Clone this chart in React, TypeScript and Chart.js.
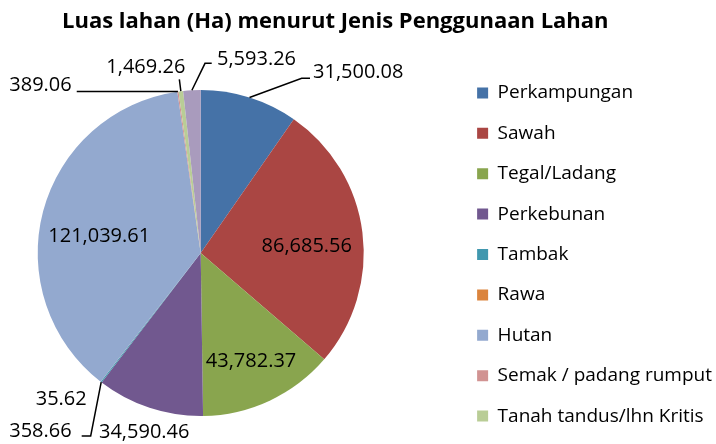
import { useEffect, useRef } from "react";
import { Chart, registerables } from "chart.js";

Chart.register(...registerables);

// ---- data ----
const categories = [
  "Perkampungan",
  "Sawah",
  "Tegal/Ladang",
  "Perkebunan",
  "Tambak",
  "Rawa",
  "Hutan",
  "Semak / padang rumput",
  "Tanah tandus/lhn Kritis",
  "Lainnya",
];
const areaHa = [
  31500.08, 86685.56, 43782.37, 34590.46, 358.66, 35.62, 121039.61, 389.06,
  1469.26, 5593.26,
];
const sliceColors = [
  "#4572A7",
  "#AA4643",
  "#89A54E",
  "#71588F",
  "#4198AF",
  "#DB843D",
  "#93A9CF",
  "#D19392",
  "#B9CD96",
  "#A99BBD",
];
const legendItemCount = 9;
const titleText = "Luas lahan (Ha) menurut Jenis Penggunaan Lahan";

// ---- layout / style ----
const FONT = "'Open Sans', sans-serif";
const LABEL_FONT_SIZE = 20;
const PIE_CX = 200.7;
const PIE_CY = 253;
const PIE_R = 163;

type LabelLayout = {
  inside?: number;
  leader?: number[][];
  dx: number;
  dy: number;
  align: CanvasTextAlign;
};

const LABEL_LAYOUT: LabelLayout[] = [
  { leader: [[52.2, -19.2], [60.5, -19.2]], dx: 63.5, dy: -19.2, align: "left" },
  { inside: 0.67, dx: -2.3, dy: 12.7, align: "center" },
  { inside: 0.67, dx: 4.1, dy: 14.8, align: "center" },
  { dx: -5.3, dy: 30.5, align: "center" },
  { leader: [[-10.5, 53.9], [-19.5, 53.9]], dx: -29.5, dy: 55.2, align: "right" },
  { dx: -14, dy: 23.3, align: "right" },
  { inside: 0.67, dx: 4.1, dy: 16.6, align: "center" },
  { leader: [[-101.2, 0]], dx: -106.2, dy: -0.9, align: "right" },
  { leader: [[-1.5, -11.9]], dx: -35, dy: -17.9, align: "center" },
  { leader: [[13.1, -26.9], [19.8, -26.9]], dx: 25.1, dy: -25.2, align: "left" },
];

function formatHa(v: number): string {
  const [i, f] = v.toFixed(2).split(".");
  return i.replace(/\B(?=(\d{3})+(?!\d))/g, ",") + "." + f;
}

const pieFrame = {
  id: "pieFrame",
  afterLayout(chart: any) {
    const m = 3;
    const left = PIE_CX - PIE_R - m;
    const right = PIE_CX + PIE_R + m;
    const top = PIE_CY - PIE_R - m;
    const bottom = PIE_CY + PIE_R + m;
    chart.chartArea = {
      left,
      right,
      top,
      bottom,
      width: right - left,
      height: bottom - top,
    };
  },
};

const sliceLabels = {
  id: "sliceLabels",
  afterDatasetsDraw(chart: any) {
    const ctx: CanvasRenderingContext2D = chart.ctx;
    const meta = chart.getDatasetMeta(0);
    ctx.save();
    ctx.font = `${LABEL_FONT_SIZE}px ${FONT}`;
    ctx.fillStyle = "#000";
    ctx.strokeStyle = "#000";
    ctx.lineWidth = 1.5;
    ctx.textBaseline = "alphabetic";
    meta.data.forEach((arc: any, i: number) => {
      const { x, y, startAngle, endAngle, outerRadius } = arc.getProps(
        ["x", "y", "startAngle", "endAngle", "outerRadius"],
        true
      );
      const mid = (startAngle + endAngle) / 2;
      const c = Math.cos(mid);
      const s = Math.sin(mid);
      const L = LABEL_LAYOUT[i];
      let tx: number;
      let ty: number;
      if (L.inside != null) {
        tx = x + c * outerRadius * L.inside + L.dx;
        ty = y + s * outerRadius * L.inside + L.dy;
      } else {
        const ex = x + c * outerRadius;
        const ey = y + s * outerRadius;
        if (L.leader) {
          ctx.beginPath();
          ctx.moveTo(ex, ey);
          L.leader.forEach(([dx, dy]) => ctx.lineTo(ex + dx, ey + dy));
          ctx.stroke();
        }
        tx = ex + L.dx;
        ty = ey + L.dy;
      }
      ctx.textAlign = L.align;
      ctx.fillText(formatHa(areaHa[i]), tx, ty);
    });
    ctx.restore();
  },
};

export default function App() {
  const canvasRef = useRef<HTMLCanvasElement | null>(null);

  useEffect(() => {
    const canvas = canvasRef.current;
    if (!canvas) return;
    const chart = new Chart(canvas, {
      type: "pie",
      data: {
        labels: categories,
        datasets: [
          {
            data: areaHa,
            backgroundColor: sliceColors,
            borderWidth: 0,
            hoverOffset: 0,
            radius: PIE_R,
          } as any,
        ],
      },
      options: {
        responsive: false,
        animation: false,
        radius: PIE_R,
        layout: { padding: { left: 62, right: -6, top: 0, bottom: -3 } },
        plugins: {
          title: {
            display: true,
            text: titleText,
            align: "start",
            color: "#000",
            font: { family: FONT, size: 22, weight: "bold" },
            padding: { top: 9, bottom: 0 },
          },
          legend: {
            position: "right",
            align: "end",
            labels: {
              boxWidth: 11,
              boxHeight: 11,
              padding: 21.4,
              color: "#000",
              font: { family: FONT, size: 19 },
              filter: (item: any) => item.index < legendItemCount,
            },
          },
          tooltip: { enabled: false },
        },
      } as any,
      plugins: [pieFrame, sliceLabels],
    });
    return () => chart.destroy();
  }, []);

  return (
    <div style={{ position: "fixed", left: 0, top: 0, width: 716, height: 444, background: "#fff" }}>
      <canvas ref={canvasRef} width={716} height={444} style={{ display: "block" }} />
    </div>
  );
}
